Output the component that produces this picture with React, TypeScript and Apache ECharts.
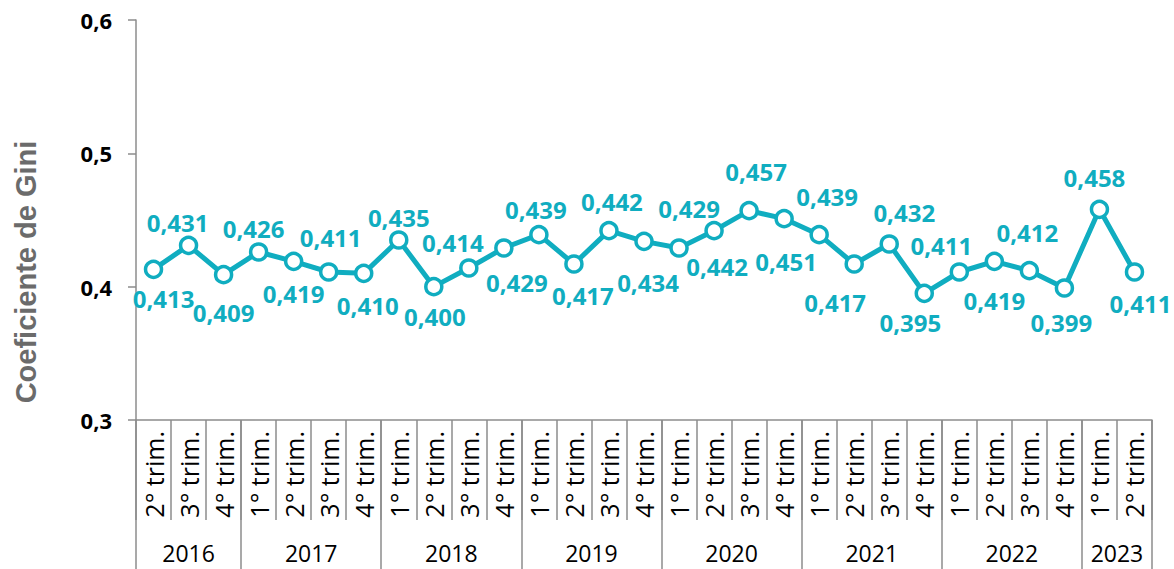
import React, { useEffect, useRef } from "react";
import * as echarts from "echarts";

// ---- data ----
const years = ["2016", "2017", "2018", "2019", "2020", "2021", "2022", "2023"];
const yearQuarters: string[][] = [
  ["2° trim.", "3° trim.", "4° trim."],
  ["1° trim.", "2° trim.", "3° trim.", "4° trim."],
  ["1° trim.", "2° trim.", "3° trim.", "4° trim."],
  ["1° trim.", "2° trim.", "3° trim.", "4° trim."],
  ["1° trim.", "2° trim.", "3° trim.", "4° trim."],
  ["1° trim.", "2° trim.", "3° trim.", "4° trim."],
  ["1° trim.", "2° trim.", "3° trim.", "4° trim."],
  ["1° trim.", "2° trim."],
];
const gini = [
  0.413, 0.431, 0.409,
  0.426, 0.419, 0.411, 0.41,
  0.435, 0.4, 0.414, 0.429,
  0.439, 0.417, 0.442, 0.434,
  0.429, 0.442, 0.457, 0.451,
  0.439, 0.417, 0.432, 0.395,
  0.411, 0.419, 0.412, 0.399,
  0.458, 0.411,
];
const yMin = 0.3;
const yMax = 0.6;
const yTitle = "Coeficiente de Gini";

// ---- label placement (style: offset of each value label from its point) ----
const labelOffsets: [number, number][] = [
  [10, 29], [-11, -23], [0, 38],
  [-5, -24], [0, 32], [2, -35], [4, 32],
  [0, -23], [1, 30], [-16, -26], [13, 34],
  [-3, -25], [9, 31], [3, -29], [4, 41],
  [10, -40], [3, 36], [7, -39], [2, 43],
  [8, -38], [-19, 38], [15, -32], [-14, 29],
  [-18, -27], [0, 39], [-2, -38], [-3, 34],
  [-5, -32], [6, 31],
];

const categories: string[] = yearQuarters.flat();
const yearStarts: number[] = [];
{
  let s = 0;
  yearQuarters.forEach((q) => {
    yearStarts.push(s);
    s += q.length;
  });
}

const MAIN = "#10adc0";
const AXIS = "#8c8c8c";
const FONT = "'Open Sans', 'Noto Sans', sans-serif";

export default function App() {
  const ref = useRef<HTMLDivElement>(null);

  useEffect(() => {
    document.body.style.margin = "0";
    if (!ref.current) return;
    const chart = echarts.init(ref.current, undefined, { renderer: "svg" });

    const option: any = {
      animation: false,
      backgroundColor: "#ffffff",
      grid: { left: 136, right: 22, top: 20, bottom: 149, containLabel: false },
      xAxis: [
        {
          type: "category",
          data: categories,
          boundaryGap: true,
          axisLine: { show: true, lineStyle: { color: AXIS, width: 1.5 } },
          axisTick: { show: true, interval: 0, length: 100, lineStyle: { color: AXIS, width: 1.5 } },
          axisLabel: {
            interval: 0,
            rotate: 90,
            margin: 11,
            color: "#000",
            fontSize: 25,
            fontFamily: FONT,
          },
          splitLine: { show: false },
        },
        {
          type: "category",
          data: categories,
          position: "bottom",
          boundaryGap: true,
          axisLine: { show: false },
          axisTick: {
            show: true,
            interval: (i: number) => yearStarts.includes(i),
            length: 155,
            lineStyle: { color: AXIS, width: 1.5 },
          },
          axisLabel: { show: false, interval: (i: number) => yearStarts.includes(i) },
          splitLine: { show: false },
        },
      ],
      yAxis: {
        type: "value",
        min: yMin,
        max: yMax,
        splitNumber: 3,
        axisLine: { show: true, lineStyle: { color: AXIS, width: 1.5 } },
        axisTick: { show: true, length: 8, lineStyle: { color: AXIS, width: 1.5 } },
        axisLabel: {
          formatter: (v: number) => v.toFixed(1).replace(".", ","),
          color: "#000",
          fontSize: 22,
          fontWeight: "bold",
          fontFamily: FONT,
          margin: 24,
        },
        splitLine: { show: false },
      },
      series: [
        {
          type: "line",
          xAxisIndex: 0,
          data: gini.map((v, i) => ({
            value: v,
            label: { offset: labelOffsets[i] },
          })),
          symbol: "circle",
          symbolSize: 16,
          lineStyle: { color: MAIN, width: 5 },
          itemStyle: { color: "#ffffff", borderColor: MAIN, borderWidth: 3.5 },
          label: {
            show: true,
            position: "inside",
            formatter: (p: any) => Number(p.value).toFixed(3).replace(".", ","),
            color: MAIN,
            fontSize: 24,
            fontWeight: "bold",
            fontFamily: FONT,
          },
          z: 3,
        },
      ],
    };
    chart.setOption(option);

    const yearTexts = years.map((y, k) => {
      const s = yearStarts[k];
      const e = s + yearQuarters[k].length - 1;
      const x0 = chart.convertToPixel({ xAxisIndex: 0 }, s) as number;
      const x1 = chart.convertToPixel({ xAxisIndex: 0 }, e) as number;
      return {
        type: "text",
        x: (x0 + x1) / 2,
        y: 553,
        style: {
          text: y,
          fontSize: 23,
          fontFamily: FONT,
          fill: "#000",
          align: "center",
          verticalAlign: "middle",
        },
      };
    });

    chart.setOption({
      graphic: [
        ...yearTexts,
        {
          type: "text",
          x: 26,
          y: 272,
          rotation: Math.PI / 2,
          style: {
            text: yTitle,
            fontSize: 29,
            fontWeight: "bold",
            fontFamily: "'Liberation Sans', Arial, sans-serif",
            fill: "#6b6b6b",
            align: "center",
            verticalAlign: "middle",
          },
        },
      ],
    });

    return () => chart.dispose();
  }, []);

  return <div ref={ref} style={{ width: 1174, height: 569 }} />;
}
